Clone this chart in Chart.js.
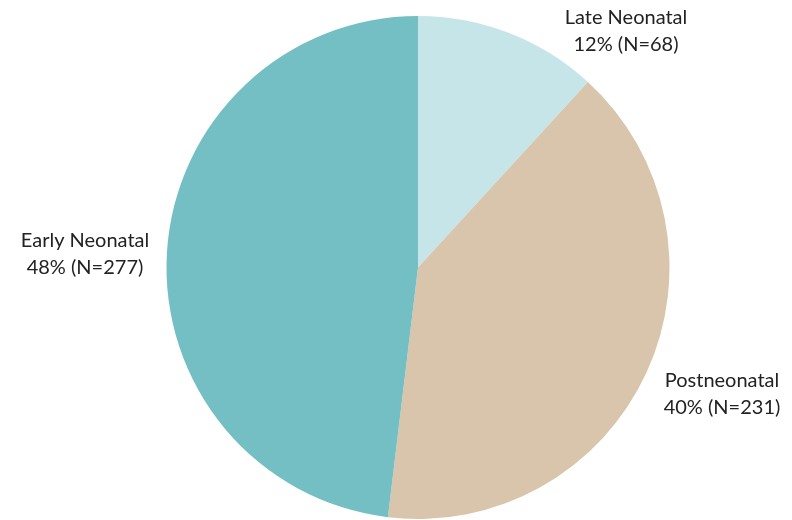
<!DOCTYPE html>
<html>
<head>
<meta charset="utf-8">
<script src="https://cdn.jsdelivr.net/npm/chart.js@4/dist/chart.umd.min.js"></script>
<style>
  html, body { margin: 0; padding: 0; background: #fff; }
  #wrap { width: 792px; height: 520px; position: relative; }
</style>
</head>
<body>
<div id="wrap"><canvas id="pieChart"></canvas></div>
<script>
const categories = ["Late Neonatal", "Postneonatal", "Early Neonatal"];
const counts = [68, 231, 277];
const sliceColors = ["#c6e5e9", "#d8c5ab", "#73bfc4"];

// where each two-line label sits (center of text block)
const labelAnchors = [
  [626, 31],
  [722, 394],
  [85, 254],
];

const total = counts.reduce((a, b) => a + b, 0);

const sliceLabels = {
  id: "sliceLabels",
  afterDraw(chart) {
    const ctx = chart.ctx;
    ctx.save();
    ctx.font = "20px Lato, 'Open Sans', sans-serif";
    ctx.fillStyle = "#222";
    ctx.textAlign = "center";
    ctx.textBaseline = "middle";
    categories.forEach((name, i) => {
      const pct = Math.round((counts[i] / total) * 100);
      const [x, y] = labelAnchors[i];
      ctx.fillText(name, x, y - 13.5);
      ctx.fillText(`${pct}% (N=${counts[i]})`, x, y + 13.5);
    });
    ctx.restore();
  },
};

new Chart(document.getElementById("pieChart"), {
  type: "pie",
  data: {
    labels: categories,
    datasets: [
      {
        data: counts,
        backgroundColor: sliceColors,
        borderWidth: 0,
      },
    ],
  },
  options: {
    responsive: true,
    maintainAspectRatio: false,
    animation: false,
    layout: { padding: { top: 16, bottom: 1, left: 166, right: 122 } },
    plugins: {
      legend: { display: false },
      tooltip: { enabled: false },
    },
  },
  plugins: [sliceLabels],
});
</script>
</body>
</html>
